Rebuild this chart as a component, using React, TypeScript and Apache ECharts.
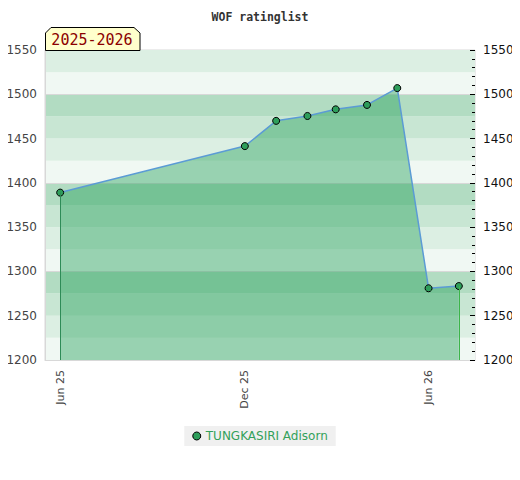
import React, { useEffect, useRef } from "react";
import * as echarts from "echarts";

const seriesName = "TUNGKASIRI Adisorn";
const dates: [number, number, number][] = [
  [2025, 6, 1],
  [2025, 12, 1],
  [2026, 1, 1],
  [2026, 2, 1],
  [2026, 3, 1],
  [2026, 4, 1],
  [2026, 5, 1],
  [2026, 6, 1],
  [2026, 7, 1],
];
const ratings = [1389, 1441.5, 1470, 1475.5, 1483, 1488, 1507, 1281, 1283.5];
const xLabelDates: [number, number, number][] = [
  [2025, 6, 1],
  [2025, 12, 1],
  [2026, 6, 1],
];
const monthNames = ["Jan", "Feb", "Mar", "Apr", "May", "Jun", "Jul", "Aug", "Sep", "Oct", "Nov", "Dec"];
const seasonLabel = "2025-2026";
const titleText = "WOF ratinglist";

const ts = (d: [number, number, number]) => new Date(d[0], d[1] - 1, d[2]).getTime();

export default function App() {
  const ref = useRef<HTMLDivElement>(null);
  useEffect(() => {
    if (!ref.current) return;
    const chart = echarts.init(ref.current, null, { renderer: "svg" });
    const data = dates.map((d, i) => [ts(d), ratings[i]]);
    const first = data[0];
    const last = data[data.length - 1];
    const yMin = 1200;
    const yMax = 1550;
    chart.setOption({
      animation: false,
      title: {
        text: titleText,
        left: "center",
        top: 6,
        textStyle: { fontFamily: "DejaVu Sans Mono", fontSize: 11.5, fontWeight: "bold", color: "#333" },
      },
      grid: { left: 45, right: 45, top: 50, bottom: 120, show: true, borderColor: "#d8d8d8", borderWidth: 1 },
      xAxis: {
        type: "value",
        min: new Date(2025, 4, 17).getTime(),
        max: new Date(2026, 6, 17).getTime(),
        axisLine: { show: true, lineStyle: { color: "#d8d8d8" } },
        axisTick: { show: false },
        splitLine: { show: false },
        axisLabel: {
          customValues: xLabelDates.map(ts),
          rotate: 90,
          color: "#444",
          fontFamily: "DejaVu Sans",
          fontSize: 11,
          margin: 10,
          formatter: (v: number) => {
            const d = new Date(v);
            return monthNames[d.getMonth()] + " " + String(d.getFullYear()).slice(2);
          },
        },
      },
      yAxis: [
        {
          type: "value",
          min: yMin,
          max: yMax,
          interval: 25,
          position: "left",
          axisLine: { show: true, lineStyle: { color: "#d8d8d8" } },
          axisTick: { show: false },
          axisLabel: {
            color: "#444",
            fontFamily: "DejaVu Sans",
            fontSize: 12,
            margin: 8,
            formatter: (v: number) => (v % 50 === 0 ? String(v) : ""),
          },
          splitLine: {
            show: true,
            lineStyle: { color: ["#d8d8d8", "rgba(0,0,0,0)", "rgba(0,0,0,0)", "rgba(0,0,0,0)"], width: 1 },
          },
          splitArea: {
            show: true,
            areaStyle: { color: ["#f0f8f3", "#dcefe3", "#c8e6d3", "#b2dcc2"] },
          },
        },
        {
          type: "value",
          min: yMin,
          max: yMax,
          interval: 50,
          position: "right",
          axisLine: { show: false },
          axisTick: { show: true, inside: true, length: 5, lineStyle: { color: "#000" } },
          minorTick: { show: true, splitNumber: 5, length: 3, lineStyle: { color: "#000" } },
          axisLabel: {
            color: "#111",
            fontFamily: "DejaVu Sans",
            fontSize: 12,
            margin: 8,
            formatter: (v: number) => String(v),
          },
          splitLine: { show: false },
          splitArea: { show: false },
        },
      ],
      legend: {
        bottom: 34,
        left: "center",
        data: [{ name: seriesName, icon: "circle" }],
        itemWidth: 8,
        itemHeight: 8,
        itemGap: 6,
        backgroundColor: "#f0f0f0",
        padding: [4, 8, 4, 8],
        textStyle: { color: "#33a15a", fontFamily: "DejaVu Sans", fontSize: 12 },
        itemStyle: { color: "#2e9e5b", borderColor: "#000", borderWidth: 1 },
      },
      graphic: [
        {
          type: "polygon",
          z: 100,
          shape: {
            points: [
              [45.5, 50.5],
              [45.5, 33],
              [51, 27.5],
              [134, 27.5],
              [140, 33],
              [140, 50.5],
            ],
          },
          style: { fill: "#ffffcc", stroke: "#000", lineWidth: 1 },
        },
        {
          type: "text",
          z: 101,
          x: 92,
          y: 40,
          style: {
            text: seasonLabel,
            fill: "#8b0000",
            font: "15px 'DejaVu Sans Mono'",
            align: "center",
            verticalAlign: "middle",
          },
        },
      ],
      series: [
        {
          name: seriesName,
          type: "line",
          yAxisIndex: 0,
          data,
          symbol: "circle",
          symbolSize: 7,
          itemStyle: { color: "#2e9e5b", borderColor: "#000", borderWidth: 1 },
          lineStyle: { color: "#5b9bd5", width: 1.5 },
          areaStyle: { color: "rgba(38,161,90,0.43)", opacity: 1, origin: "start" },
          z: 3,
          markLine: {
            silent: true,
            symbol: "none",
            label: { show: false },
            data: [
              [
                { coord: [first[0], first[1]], lineStyle: { color: "#2e8b57", width: 1, type: "solid" } },
                { coord: [first[0], yMin] },
              ],
              [
                { coord: [last[0], last[1]], lineStyle: { color: "#3cb54a", width: 1, type: "solid" } },
                { coord: [last[0], yMin] },
              ],
            ],
          },
        },
      ],
    });
    return () => chart.dispose();
  }, []);
  return <div ref={ref} style={{ width: 520, height: 480, margin: -8 }} />;
}
